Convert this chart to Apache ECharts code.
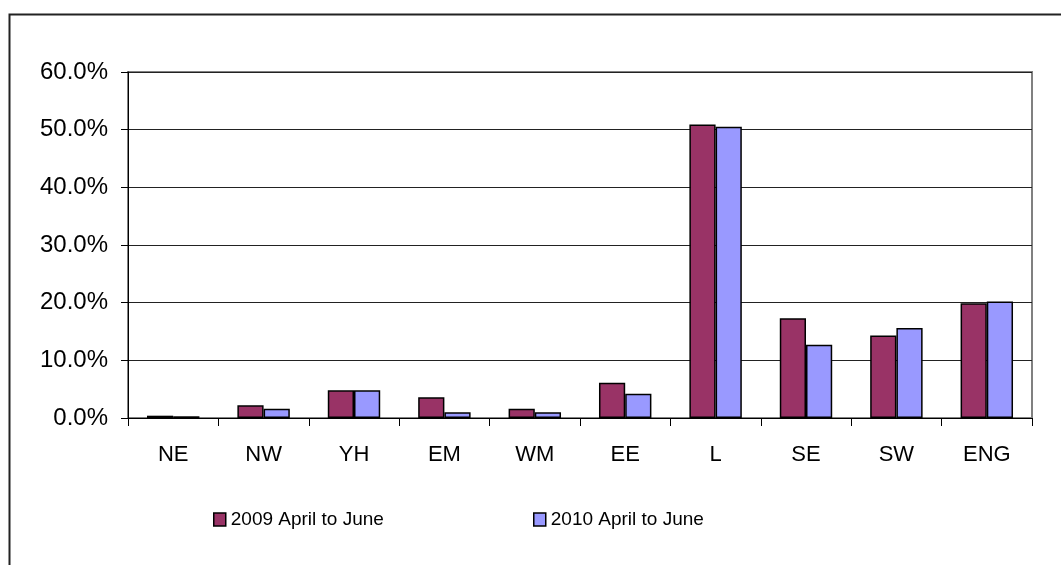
<!DOCTYPE html>
<html>
<head>
<meta charset="utf-8">
<script src="https://cdn.jsdelivr.net/npm/echarts@6/dist/echarts.min.js"></script>
<style>
html,body{margin:0;padding:0;background:#fff;overflow:hidden;}
#chart{width:1061px;height:565px;}
</style>
</head>
<body>
<div id="chart"></div>
<script>
const categories = ['NE','NW','YH','EM','WM','EE','L','SE','SW','ENG'];
const seriesNames = ['2009 April to June','2010 April to June'];
const values2009 = [0.4, 2.2, 4.8, 3.6, 1.6, 6.1, 50.9, 17.3, 14.3, 19.9];
const values2010 = [0.3, 1.6, 4.8, 1.0, 1.0, 4.2, 50.5, 12.7, 15.6, 20.2];
const yTicks = [0, 10, 20, 30, 40, 50, 60];

const FONT = 'Liberation Sans, Arial, sans-serif';
const chart = echarts.init(document.getElementById('chart'), null, {renderer:'canvas'});
chart.setOption({
  backgroundColor:'#fff',
  animation:false,
  graphic:[{
    type:'rect', silent:true, z:-10,
    shape:{x:9.5, y:14.5, width:1100, height:600},
    style:{fill:'none', stroke:'#222', lineWidth:2}
  }],
  grid:{left:128, right:29, top:72, bottom:147, show:true, borderColor:'#808080', borderWidth:2, backgroundColor:'#fff'},
  legend:[
    {data:[seriesNames[0]], left:213, top:510, padding:0, itemWidth:12, itemHeight:13, itemGap:4,
     textStyle:{fontFamily:FONT, fontSize:19, color:'#000'}, icon:'rect',
     itemStyle:{borderColor:'#000', borderWidth:1.5}},
    {data:[seriesNames[1]], left:533, top:510, padding:0, itemWidth:12, itemHeight:13, itemGap:4,
     textStyle:{fontFamily:FONT, fontSize:19, color:'#000'}, icon:'rect',
     itemStyle:{borderColor:'#000', borderWidth:1.5}}
  ],
  xAxis:{
    type:'category', data:categories,
    axisLine:{lineStyle:{color:'#000', width:1}},
    axisTick:{show:true, length:8, lineStyle:{color:'#000'}},
    axisLabel:{fontFamily:FONT, fontSize:22, color:'#000', margin:26}
  },
  yAxis:{
    type:'value', min:yTicks[0], max:yTicks[yTicks.length-1], interval:10,
    axisLine:{show:true, lineStyle:{color:'#000', width:1}},
    axisTick:{show:true, length:7, lineStyle:{color:'#000'}},
    splitLine:{lineStyle:{color:'#222', width:1}},
    axisLabel:{fontFamily:FONT, fontSize:24, color:'#000', margin:20,
      formatter:function(v){return v.toFixed(1)+'%';}}
  },
  series:[
    {name:seriesNames[0], type:'bar', data:values2009, barGap:'0%', barCategoryGap:'42%',
     itemStyle:{color:'#993366', borderColor:'#000', borderWidth:1.5}},
    {name:seriesNames[1], type:'bar', data:values2010, barGap:'0%', barCategoryGap:'42%',
     itemStyle:{color:'#9999FF', borderColor:'#000', borderWidth:1.5}}
  ]
});
</script>
</body>
</html>
